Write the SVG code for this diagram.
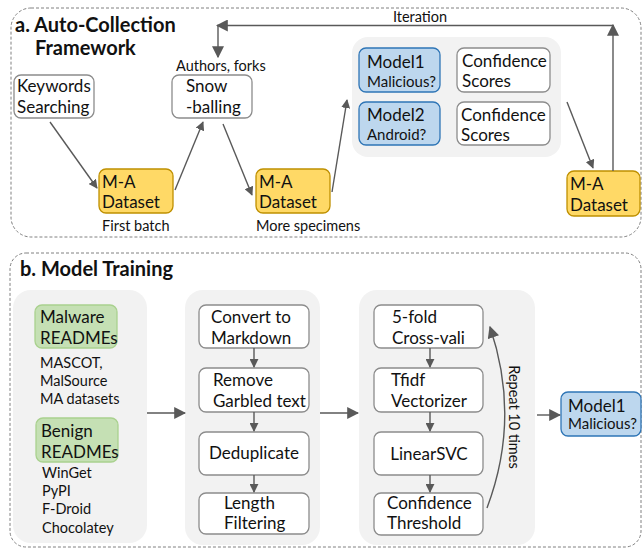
<svg xmlns="http://www.w3.org/2000/svg" width="642" height="548" viewBox="0 0 642 548">
<defs>
<marker id="ah" viewBox="0 0 10 10" refX="9" refY="5" markerWidth="9" markerHeight="9" markerUnits="userSpaceOnUse" orient="auto">
<path d="M0,0 L10,5 L0,10 z" fill="#595959"/>
</marker>
<marker id="ahb" viewBox="0 0 10 10" refX="9" refY="5" markerWidth="12" markerHeight="12" markerUnits="userSpaceOnUse" orient="auto">
<path d="M0,0 L10,5 L0,10 z" fill="#595959"/>
</marker>
</defs>
<style>
text{font-family:Lato,"Liberation Sans",sans-serif;fill:#111}
.t{font-size:17px}
.s{font-size:14.5px}
.xs{font-size:15px}
.h{font-size:20px;font-weight:bold}
.panel{fill:none;stroke:#808080;stroke-width:1;stroke-dasharray:3,2}
.cont{fill:#f2f2f2;stroke:none}
.wb{fill:#fff;stroke:#8c8c8c;stroke-width:1.3}
.yb{fill:#ffd966;stroke:#bf9000;stroke-width:1.3}
.bb{fill:#bdd7ee;stroke:#2e75b6;stroke-width:1.3}
.gb{fill:#c5e0b4;stroke:#a9d18e;stroke-width:1.3}
.c{stroke:#595959;stroke-width:1.4;fill:none}
</style>

<g id="panel-a">
<rect class="panel" x="11" y="8" width="630" height="229" rx="20"/>
<text class="h" x="15" y="32">a. Auto-Collection</text>
<text class="h" x="35" y="55">Framework</text>
</g>
<g id="panel-b">
<rect class="panel" x="10" y="253" width="631" height="294" rx="16"/>
<text class="h" x="20" y="276">b. Model Training</text>
</g>

<g id="model-container">
<rect class="cont" x="352" y="37" width="209" height="120" rx="16"/>
</g>
<g id="sources-container"><rect class="cont" x="13" y="290" width="134" height="253" rx="18"/></g>
<g id="preprocess-container"><rect class="cont" x="185" y="290" width="135" height="255" rx="18"/></g>
<g id="training-container"><rect class="cont" x="359" y="290" width="176" height="255" rx="18"/></g>

<g id="keywords">
<rect class="wb" x="14" y="75" width="80" height="43" rx="7"/>
<text class="t" x="17" y="92">Keywords</text>
<text class="t" x="17" y="113">Searching</text>
</g>
<g id="snowballing">
<rect class="wb" x="172" y="75" width="80" height="43" rx="7"/>
<text class="t" x="186" y="92">Snow</text>
<text class="t" x="186" y="113">-balling</text>
<text class="s" x="176" y="71">Authors, forks</text>
</g>
<g id="dataset1">
<rect class="yb" x="99" y="169" width="74" height="44" rx="7"/>
<text class="t" x="102" y="188">M-A</text>
<text class="t" x="102" y="208">Dataset</text>
<text class="s" x="102" y="231">First batch</text>
</g>
<g id="dataset2">
<rect class="yb" x="256" y="169" width="74" height="44" rx="7"/>
<text class="t" x="259" y="188">M-A</text>
<text class="t" x="259" y="208">Dataset</text>
<text class="s" x="256" y="231">More specimens</text>
</g>
<g id="dataset3">
<rect class="yb" x="567" y="171" width="73" height="45" rx="7"/>
<text class="t" x="570" y="190">M-A</text>
<text class="t" x="570" y="211">Dataset</text>
</g>
<g id="model1-a">
<rect class="bb" x="359" y="48" width="81" height="44" rx="7"/>
<text class="t" x="367" y="68">Model1</text>
<text class="xs" x="367" y="87">Malicious?</text>
</g>
<g id="conf1">
<rect class="wb" x="457" y="48" width="93" height="44" rx="7"/>
<text class="t" x="462" y="67">Confidence</text>
<text class="t" x="462" y="87">Scores</text>
</g>
<g id="model2-a">
<rect class="bb" x="359" y="102" width="81" height="43" rx="7"/>
<text class="t" x="367" y="121">Model2</text>
<text class="xs" x="367" y="140">Android?</text>
</g>
<g id="conf2">
<rect class="wb" x="457" y="102" width="93" height="43" rx="7"/>
<text class="t" x="461" y="121">Confidence</text>
<text class="t" x="461" y="141">Scores</text>
</g>

<g id="malware">
<rect class="gb" x="35" y="305" width="82" height="43" rx="7"/>
<text class="t" x="40" y="323">Malware</text>
<text class="t" x="40" y="344">READMEs</text>
<text class="s" x="40" y="368">MASCOT,</text>
<text class="s" x="40" y="386">MalSource</text>
<text class="s" x="40" y="404">MA datasets</text>
</g>
<g id="benign">
<rect class="gb" x="36" y="418" width="82" height="44" rx="7"/>
<text class="t" x="41" y="437">Benign</text>
<text class="t" x="41" y="458">READMEs</text>
<text class="s" x="42" y="478">WinGet</text>
<text class="s" x="42" y="496">PyPI</text>
<text class="s" x="42" y="514">F-Droid</text>
<text class="s" x="42" y="533">Chocolatey</text>
</g>

<g id="convert">
<rect class="wb" x="199" y="305" width="110" height="43" rx="7"/>
<text class="t" x="211" y="323">Convert to</text>
<text class="t" x="211" y="344">Markdown</text>
</g>
<g id="garbled">
<rect class="wb" x="199" y="368" width="110" height="44" rx="7"/>
<text class="t" x="213" y="386">Remove</text>
<text class="t" x="213" y="407">Garbled text</text>
</g>
<g id="dedup">
<rect class="wb" x="199" y="432" width="110" height="43" rx="7"/>
<text class="t" x="254" y="459" text-anchor="middle">Deduplicate</text>
</g>
<g id="length">
<rect class="wb" x="199" y="493" width="110" height="41" rx="7"/>
<text class="t" x="224" y="509">Length</text>
<text class="t" x="224" y="529">Filtering</text>
</g>

<g id="crossval">
<rect class="wb" x="374" y="305" width="109" height="43" rx="7"/>
<text class="t" x="392" y="323">5-fold</text>
<text class="t" x="392" y="344">Cross-vali</text>
</g>
<g id="tfidf">
<rect class="wb" x="374" y="368" width="109" height="44" rx="7"/>
<text class="t" x="391" y="386">Tfidf</text>
<text class="t" x="391" y="407">Vectorizer</text>
</g>
<g id="linearsvc">
<rect class="wb" x="374" y="432" width="109" height="43" rx="7"/>
<text class="t" x="429" y="460" text-anchor="middle">LinearSVC</text>
</g>
<g id="threshold">
<rect class="wb" x="374" y="493" width="109" height="42" rx="7"/>
<text class="t" x="387" y="509">Confidence</text>
<text class="t" x="387" y="529">Threshold</text>
</g>
<g id="model1-b">
<rect class="bb" x="561" y="392" width="80" height="44" rx="7"/>
<text class="t" x="568" y="412">Model1</text>
<text class="xs" x="568" y="429">Malicious?</text>
</g>

<g id="connectors">
<line class="c" x1="50" y1="122" x2="97" y2="188" marker-end="url(#ah)"/>
<line class="c" x1="175" y1="190" x2="203" y2="122" marker-end="url(#ah)"/>
<line class="c" x1="223" y1="124" x2="252" y2="195" marker-end="url(#ah)"/>
<line class="c" x1="332" y1="192" x2="347" y2="100" marker-end="url(#ah)"/>
<line class="c" x1="567" y1="102" x2="593" y2="168" marker-end="url(#ah)"/>
<line class="c" x1="613" y1="171" x2="613" y2="25" marker-end="url(#ahb)"/>
<line class="c" x1="613" y1="25.5" x2="217" y2="25.5" marker-end="url(#ahb)"/>
<line class="c" x1="218" y1="25" x2="218" y2="57" marker-end="url(#ahb)"/>
<text class="s" x="420" y="22" text-anchor="middle">Iteration</text>

<line class="c" x1="147" y1="413" x2="185" y2="413" marker-end="url(#ahb)"/>
<line class="c" x1="254" y1="348" x2="254" y2="367" marker-end="url(#ah)"/>
<line class="c" x1="254" y1="412" x2="254" y2="431" marker-end="url(#ah)"/>
<line class="c" x1="254" y1="475" x2="254" y2="492" marker-end="url(#ah)"/>
<line class="c" x1="320" y1="413" x2="358" y2="413" marker-end="url(#ahb)"/>
<line class="c" x1="430" y1="348" x2="430" y2="367" marker-end="url(#ah)"/>
<line class="c" x1="430" y1="412" x2="430" y2="431" marker-end="url(#ah)"/>
<line class="c" x1="430" y1="475" x2="430" y2="492" marker-end="url(#ah)"/>
<path class="c" d="M487,508 Q521,418 490,327" marker-end="url(#ahb)"/>
<text class="s" transform="translate(509,417) rotate(90)" text-anchor="middle">Repeat 10 times</text>
<line class="c" x1="537" y1="415" x2="560" y2="415" marker-end="url(#ahb)"/>
</g>
</svg>
